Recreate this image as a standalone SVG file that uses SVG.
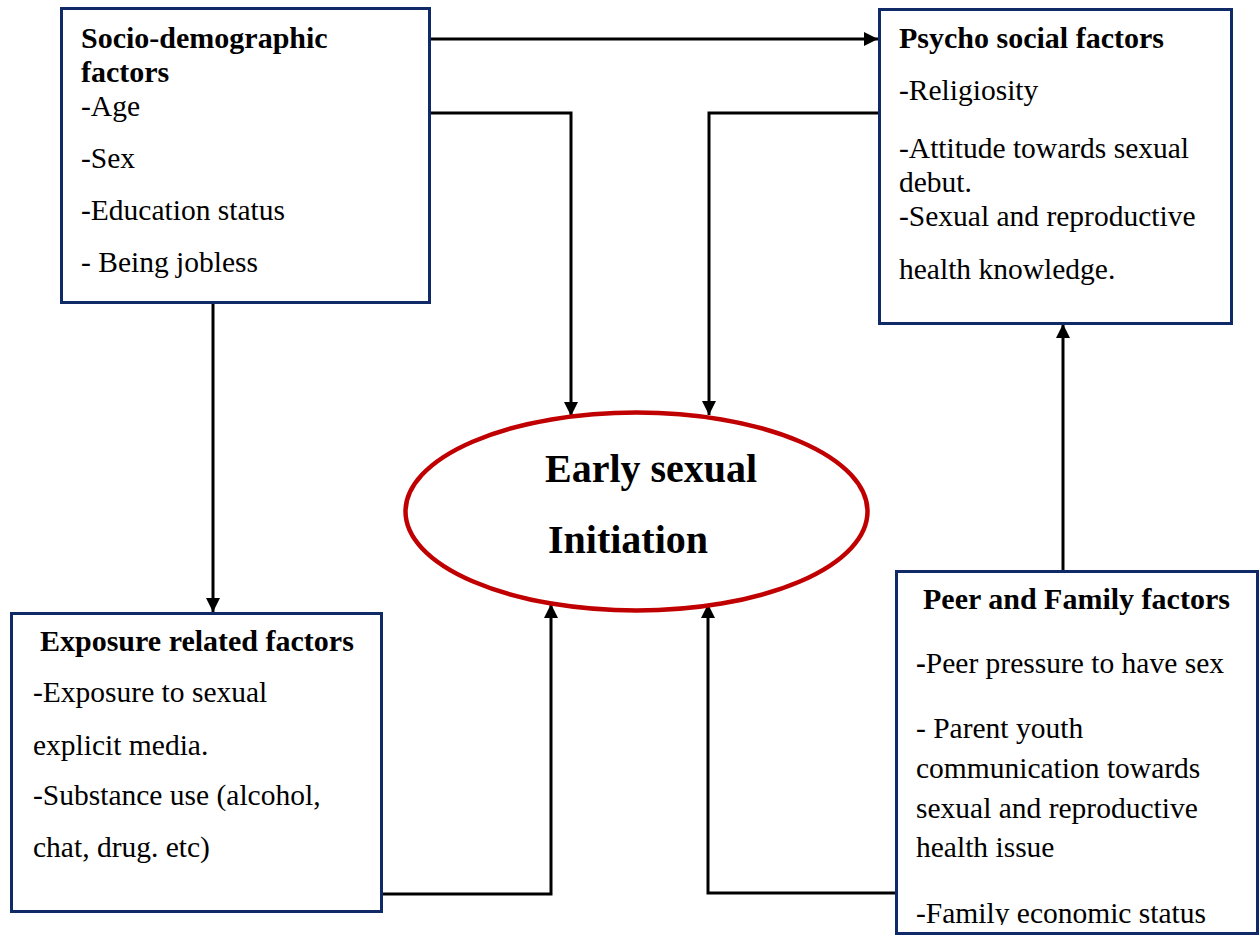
<svg xmlns="http://www.w3.org/2000/svg" width="1259" height="936" viewBox="0 0 1259 936">
<style>
.box{fill:#fff;stroke:#0f2a66;stroke-width:3}
.t{font-family:"Liberation Serif","Times New Roman",serif;font-size:29.5px;fill:#000}
.b{font-weight:bold;font-size:30px}
.c{fill:none;stroke:#000;stroke-width:3}
</style>
<defs>
<marker id="ah" markerWidth="14" markerHeight="14" viewBox="0 0 14 14" refX="14" refY="7" orient="auto" markerUnits="userSpaceOnUse">
<path d="M0,0 L14,7 L0,14 Z" fill="#000"/>
</marker>
<clipPath id="clipPeer"><rect x="896" y="571" width="363" height="354"/></clipPath>
</defs>
<rect width="1259" height="936" fill="#fff"/>

<g id="connectors">
<path class="c" d="M430,39 H878" marker-end="url(#ah)"/>
<path class="c" d="M430,113 H571 V416" marker-end="url(#ah)"/>
<path class="c" d="M879,113 H709 V415" marker-end="url(#ah)"/>
<path class="c" d="M213,303 V612" marker-end="url(#ah)"/>
<path class="c" d="M382,894 H551 V604" marker-end="url(#ah)"/>
<path class="c" d="M896,893 H708 V604" marker-end="url(#ah)"/>
<path class="c" d="M1063,571 V324" marker-end="url(#ah)"/>
</g>

<g id="socio">
<rect class="box" x="61.5" y="8.5" width="368" height="294"/>
<text class="t b" x="81" y="48">Socio-demographic</text>
<text class="t b" x="81" y="82">factors</text>
<text class="t" x="81" y="116">-Age</text>
<text class="t" x="81" y="168">-Sex</text>
<text class="t" x="81" y="220">-Education status</text>
<text class="t" x="81" y="272">- Being jobless</text>
</g>

<g id="psycho">
<rect class="box" x="879.5" y="9.5" width="352" height="314"/>
<text class="t b" x="899" y="48">Psycho social factors</text>
<text class="t" x="899" y="100">-Religiosity</text>
<text class="t" x="899" y="158">-Attitude towards sexual</text>
<text class="t" x="899" y="192">debut.</text>
<text class="t" x="899" y="226">-Sexual and reproductive</text>
<text class="t" x="899" y="279">health knowledge.</text>
</g>

<g id="early">
<ellipse cx="636.5" cy="511.5" rx="231" ry="99" fill="#fff" stroke="#c00000" stroke-width="4.5"/>
<text class="t b" style="font-size:40px" x="545" y="482">Early sexual</text>
<text class="t b" style="font-size:40px" x="548" y="553">Initiation</text>
</g>

<g id="exposure">
<rect class="box" x="11.5" y="613.5" width="370" height="298"/>
<text class="t b" x="40" y="651">Exposure related factors</text>
<text class="t" x="33" y="702">-Exposure to sexual</text>
<text class="t" x="33" y="755">explicit media.</text>
<text class="t" x="33" y="805">-Substance use (alcohol,</text>
<text class="t" x="33" y="857">chat, drug. etc)</text>
</g>

<g id="peer">
<rect class="box" x="896.5" y="571.5" width="361" height="362"/>
<text class="t b" x="923" y="609">Peer and Family factors</text>
<text class="t" x="916" y="673"><tspan font-weight="bold">-</tspan>Peer pressure to have sex</text>
<text class="t" x="916" y="738">- Parent youth</text>
<text class="t" x="916" y="778">communication towards</text>
<text class="t" x="916" y="818">sexual and reproductive</text>
<text class="t" x="916" y="857">health issue</text>
<text class="t" x="916" y="923" clip-path="url(#clipPeer)">-Family economic status</text>
</g>
</svg>
